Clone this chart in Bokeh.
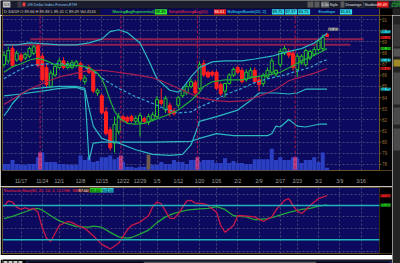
from bokeh.plotting import figure
from bokeh.models import Range1d, FixedTicker, Label, Span, BoxAnnotation
from bokeh.layouts import column, row
from bokeh.embed import file_html
from bokeh.resources import INLINE
from bokeh.core.properties import value

# ---------------- data ----------------
opens = [86.95, 87.29, 88.39, 87.37, 87.80, 87.54, 87.71, 87.97, 88.64, 87.71,
         86.70, 85.00, 86.02, 86.70, 87.29, 86.70, 86.70, 86.87, 87.04, 85.43,
         86.70, 86.36, 84.41, 84.16, 82.72, 81.11, 79.92, 80.94, 82.29, 82.21,
         82.29, 81.87, 81.78, 82.12, 81.78, 82.04, 82.29, 83.73, 82.89, 83.31,
         82.80, 83.31, 84.16, 84.41, 85.00, 85.34, 84.83, 87.04, 86.27, 86.27,
         86.27, 85.17, 84.58, 85.26, 86.02, 86.70, 86.44, 85.60, 85.85, 86.44,
         85.60, 85.26, 85.85, 86.27, 86.10, 86.95, 87.97, 88.14, 87.97, 86.53,
         87.12, 86.95, 87.54, 87.88, 88.31, 88.39, 89.66]
highs = [88.14, 88.56, 88.64, 88.22, 87.97, 88.05, 88.56, 88.73, 88.81, 87.97,
         87.04, 86.44, 87.04, 87.54, 87.63, 87.29, 87.37, 87.37, 87.20, 86.02,
         86.95, 86.53, 84.83, 84.33, 83.14, 81.36, 82.29, 82.63, 82.46, 82.38,
         82.46, 82.38, 82.63, 82.29, 82.55, 82.72, 84.16, 84.83, 84.16, 83.56,
         83.05, 84.16, 85.00, 85.26, 85.68, 85.60, 87.20, 87.37, 86.44, 86.44,
         86.44, 85.34, 85.34, 86.19, 86.70, 86.87, 86.70, 86.53, 86.70, 86.70,
         85.85, 86.19, 86.70, 87.54, 86.53, 88.39, 88.64, 88.39, 88.22, 87.97,
         87.88, 88.39, 88.31, 88.56, 89.24, 89.66, 89.83]
lows = [86.70, 87.04, 86.70, 87.20, 87.20, 87.37, 87.54, 87.80, 86.70, 85.43,
        84.83, 84.83, 85.85, 86.53, 86.53, 86.53, 86.53, 86.70, 85.51, 85.17,
        86.10, 84.41, 84.16, 82.46, 80.60, 79.24, 79.07, 80.68, 81.78, 81.70,
        81.78, 81.61, 80.51, 81.70, 81.53, 81.87, 82.12, 83.31, 82.63, 82.29,
        82.38, 83.05, 83.99, 84.24, 84.83, 84.24, 84.66, 85.85, 85.76, 85.85,
        84.66, 84.16, 83.99, 85.17, 85.85, 86.10, 85.26, 85.43, 85.68, 85.26,
        84.58, 85.00, 85.68, 86.10, 85.85, 86.70, 87.80, 87.54, 86.44, 85.85,
        86.95, 86.78, 87.37, 87.71, 88.14, 88.22, 89.41]
closes = [87.80, 88.22, 86.87, 87.97, 87.37, 87.88, 88.39, 88.56, 86.87, 85.60,
          85.17, 86.19, 86.78, 87.29, 86.70, 87.04, 87.12, 87.20, 85.68, 85.76,
          86.27, 84.58, 84.66, 82.63, 80.77, 79.50, 81.61, 82.29, 81.95, 81.87,
          81.95, 82.12, 82.38, 81.87, 82.29, 82.46, 83.82, 83.48, 83.90, 82.63,
          82.55, 83.99, 84.75, 85.00, 85.43, 84.41, 86.95, 86.02, 85.85, 86.02,
          84.83, 84.33, 85.26, 86.02, 86.53, 86.27, 85.43, 86.27, 86.44, 85.43,
          85.17, 86.02, 86.44, 87.29, 86.44, 88.14, 88.39, 87.80, 86.70, 87.71,
          87.71, 88.22, 88.14, 88.31, 89.07, 89.41, 89.49]
volume_k = [10.5, 10.5, 16.5, 10.5, 9, 9, 10.5, 10.5, 21, 28.5,
            13.5, 13.5, 13.5, 10.5, 10.5, 9, 9, 9, 24, 16.5,
            21, 13.5, 15, 21, 21, 24, 18, 21, 13.5, 6,
            6, 4.5, 6, 6, 10.5, 9, 9, 13.5, 10.5, 10.5,
            16.5, 13.5, 13.5, 10.5, 16.5, 16.5, 13.5, 16.5, 16.5, 16.5,
            12, 12, 19.5, 12, 15, 12, 12, 10.5, 10.5, 18,
            18, 18, 18, 34.5, 16.5, 21, 16.5, 16.5, 21, 19.5,
            12, 16.5, 16.5, 21, 13.5, 28.5, 4.5]

date_ticks = [4, 9, 13, 18, 23, 28, 32, 36, 41, 46, 50, 55, 60, 65, 69, 74, 79, 84]
date_labels = ["11/17", "11/24", "12/1", "12/8", "12/15", "12/22", "12/29", "1/5", "1/12",
               "1/20", "1/26", "2/2", "2/9", "2/17", "2/23", "3/2", "3/9", "3/16"]
price_ticks = list(range(78, 92))

upper_idx = [0, 3, 6, 10, 13, 17, 20, 23, 25, 27, 29, 32, 34, 36, 39, 41, 42, 44, 46, 49, 52, 56, 59, 63, 66, 70, 73, 76]
upper_val = [88.73, 88.73, 88.90, 88.81, 88.73, 88.73, 88.90, 89.24, 89.92, 90.08, 89.83, 88.90, 87.37, 85.68,
             84.66, 84.49, 84.83, 85.85, 86.69, 87.20, 87.29, 87.29, 87.46, 87.71, 88.05, 88.39, 88.90, 89.75]
lowbb_idx = [0, 1, 2, 4, 6, 10, 13, 17, 19, 20, 21, 23, 25, 27, 31, 35, 39, 42, 44, 45, 46, 50, 55, 58, 60, 64, 67, 69, 71, 76]
lowbb_val = [82.37, 82.88, 83.47, 84.32, 84.75, 84.92, 85.00, 85.00, 84.83, 83.05, 81.44, 80.34, 80.08, 79.92, 79.32,
             78.90, 78.81, 78.90, 79.75, 80.76, 81.86, 82.29, 82.88, 83.73, 84.41, 84.41, 84.32, 84.41, 84.75, 84.75]
band2_idx = [0, 4, 9, 13, 17, 19, 20, 21, 23, 35, 44, 46, 50, 54, 62, 63, 64, 65, 67, 69, 71, 74, 76]
band2_val = [84.15, 84.32, 84.58, 84.83, 84.92, 84.66, 78.39, 79.92, 80.00, 80.00, 80.08, 80.34, 80.76, 80.59,
             80.59, 80.76, 81.44, 81.36, 82.03, 81.44, 81.36, 81.61, 81.61]
dashed_idx = [0, 3, 6, 10, 13, 18, 21, 24, 27, 31, 35, 38, 41, 44, 46, 49, 52, 56, 59, 62, 66, 68, 72, 75, 76]
dashed_val = [85.68, 86.36, 86.86, 87.03, 87.03, 86.86, 86.36, 85.51, 84.83, 84.07, 83.47, 82.97, 82.63, 82.71,
              83.14, 83.64, 84.24, 84.83, 85.34, 85.68, 86.02, 86.27, 86.69, 87.29, 87.37]
sma_idx = [0, 3, 6, 10, 13, 17, 20, 23, 25, 30, 35, 37, 39, 42, 44, 46, 50, 53, 57, 59, 62, 64, 67, 70, 73, 76]
sma_val = [83.39, 84.07, 84.75, 85.42, 85.85, 86.19, 86.44, 86.44, 86.36, 86.10, 85.76, 85.51, 85.17, 84.66,
           84.32, 83.98, 83.73, 83.64, 83.73, 83.98, 84.41, 84.75, 85.51, 85.85, 86.19, 86.61]
ema_idx = [0, 2, 4, 6, 8, 10, 12, 15, 18, 20, 22, 23, 24, 25, 26, 27, 29, 31, 33, 35, 38, 41, 44, 46, 47, 49,
           52, 56, 59, 62, 65, 68, 70, 73, 76]
ema_val = [86.27, 86.78, 87.03, 87.37, 87.54, 87.29, 86.95, 86.86, 86.86, 86.69, 86.19, 85.68, 84.83, 83.73,
           82.80, 82.20, 81.69, 81.61, 81.69, 81.95, 82.37, 82.88, 83.73, 84.49, 85.00, 85.42, 85.59, 85.59,
           85.85, 86.02, 86.27, 86.86, 87.29, 87.80, 88.39]

level_price = [89.24, 88.73]
level_x0 = [6.2, -0.5]
level_x1 = [84.6, 81.5]
red_line_idx = [8.5, 27.5, 45.5, 68.5]
event_idx = [8.5, 27.5, 34, 45.5, 68.5]
event_top = [28.5, 24, 25.5, 21, 21]
event_colors = ["#b8448e", "#b8448e", "#6e5a4a", "#b8448e", "#b8448e"]

k_idx = [0, 1, 2, 3, 4, 5, 6, 7, 8, 9, 10, 11, 12, 13, 15, 16, 17, 19, 21, 23, 25, 27, 29, 30, 32, 34, 35, 36,
         37, 38, 39, 40, 41, 43, 44, 45, 47, 48, 50, 51, 52, 54, 55, 56, 59, 61, 63, 64, 66, 67, 68, 69, 70,
         71, 72, 73, 74, 76]
k_val = [78, 88, 86, 77, 73, 76, 73, 75, 68, 41, 23, 17, 31, 45, 52, 50, 46, 40, 27, 12, 4, 14, 37, 45, 51, 62,
         78, 86, 83, 70, 58, 57, 65, 88, 89, 84, 83, 80, 68, 45, 33, 45, 62, 62, 60, 52, 60, 72, 89, 92, 80, 70,
         66, 72, 80, 86, 92, 97]
d_idx = [0, 2, 5, 7, 8, 9, 11, 13, 15, 17, 20, 21, 23, 25, 27, 29, 30, 32, 34, 36, 38, 40, 43, 46, 48, 50, 52,
         54, 57, 59, 62, 64, 67, 70, 72, 74, 76]
d_val = [57, 61, 69, 74, 75, 72, 62, 53, 48, 43, 42, 44, 42, 33, 25, 23, 24, 30, 37, 50, 60, 66, 72, 74, 75, 78,
         73, 62, 60, 55, 57, 61, 68, 73, 75, 79, 81]
stoch_levels = [80, 20]
stoch_ticks = [0, 20, 40, 60, 80, 100]

# ---------------- styling ----------------
BG = "#0c0a5e"
GRID = "#45457a"
FRAME = "#6b5328"
CYAN = "#2bb8c0"
GREEN_C = "#27c427"
RED_C = "#ff1f1f"
FONT = "Liberation Sans"
AXIS_X = 88.35          # index where the plotting area ends and the price scale begins
BAR_W = 4.25            # pixels per candle
BAR_X0 = 3.5            # pixel of candle 0

n = len(closes)
idx = list(range(n))
xr = Range1d(-0.353, 91.41)


def px(x):
    return (x - BAR_X0) / BAR_W


def panel(f, yticks):
    f.xgrid.ticker = FixedTicker(ticks=date_ticks)
    f.ygrid.ticker = FixedTicker(ticks=yticks)
    f.grid.grid_line_color = GRID
    f.grid.grid_line_dash = "2 2"
    f.grid.grid_line_width = 1
    f.add_layout(BoxAnnotation(left=AXIS_X, fill_color="black", fill_alpha=1.0, line_color=None, level="underlay"))
    f.add_layout(Span(location=AXIS_X, dimension="height", line_color=FRAME, line_width=1))
    f.segment(x0=[AXIS_X] * len(yticks), x1=[AXIS_X + 0.45] * len(yticks), y0=yticks, y1=yticks,
              line_color=FRAME, line_width=1)
    f.text(x=[AXIS_X + 0.6] * len(yticks), y=yticks, text=[str(t) for t in yticks], text_font=value(FONT),
           text_font_size="4.5px", text_color="#9c6f35", text_baseline="middle", text_align="left")


def tag(f, x, y, text, bg, color="black", size="4px"):
    f.add_layout(Label(x=x, y=y, text=text, text_font_size=size, text_color=color, text_font=FONT,
                       text_align="left", text_baseline="middle", background_fill_color=bg,
                       background_fill_alpha=1.0))


def text_row(f, xs, y, texts, colors, bgs, size_px, unit, y0, y1):
    """boxes + texts for a strip of small toolbar/legend items"""
    cw = size_px * 0.55
    lefts = [x - 0.6 / unit for x in xs]
    rights = [x + (len(t) * cw + 0.6) / unit for x, t in zip(xs, texts)]
    f.quad(left=lefts, right=rights, bottom=y0, top=y1, fill_color=bgs, line_color=None)
    f.text(x=xs, y=[y] * len(xs), text=texts, text_color=colors, text_font=value(FONT),
           text_font_size="%gpx" % size_px, text_baseline="middle", text_align="left")


# ---------------- top bar + study header row (pixel coordinates) ----------------
a = figure(width=400, height=15, x_range=Range1d(0, 400), y_range=Range1d(15, 0), output_backend="svg",
           toolbar_location=None, min_border=0, x_axis_location=None, y_axis_location=None,
           background_fill_color="black", border_fill_color="black", outline_line_color=None)
a.grid.visible = False
a.quad(left=[0, 2, 392], right=[400, 379, 400], top=[0, 8, 8], bottom=[8, 15, 15],
       fill_color=["#1a1d2b", BG, "#242424"], line_color=None)
a.segment(x0=[2, 379], x1=[2, 379], y0=[8, 8], y1=[15, 15], line_color=FRAME, line_width=1)
red_px = [BAR_X0 + BAR_W * e for e in red_line_idx]
a.segment(x0=red_px, x1=red_px, y0=[8] * len(red_px), y1=[15] * len(red_px), line_color="#b3164a",
          line_dash="3 2", line_width=1)
a.quad(left=[17, 22, 307, 314, 339, 358], right=[21, 25, 313, 319, 344, 363],
       top=[1, 2, 1, 1, 1, 1], bottom=[7, 6, 7, 7, 7, 7],
       fill_color=["#3a3a48", "#e04040", "#5a5a5a", "#5a5a5a", "#5a5a5a", "#5a5a5a"], line_color=None)
text_row(a, [3, 27, 321, 329, 345, 364, 377], 4.2,
         ["/DX", "US Dollar Index Futures,ETH", "1 0s", "Style", "Drawings", "Studies", "89.49"],
         ["#202020", "#8fc3ff", "#e0e0e0", "#e0e0e0", "#e0e0e0", "#e0e0e0", "#ffffff"],
         ["#c8c8c8", "#1a1d2b", "#6a6a6a", "#1a1d2b", "#1a1d2b", "#1a1d2b", "#e01010"], 3.8, 1.0, 1, 7)
a.text(x=[391, 391], y=[2.3, 5.9], text=["+0.02", "0.02%"], text_color="#30ff30", text_font=value(FONT),
       text_font_size="3.5px", text_baseline="middle")

# quote summary (one string) + study value items
a.quad(left=[2.5], right=[100], bottom=[8.8], top=[14.0], fill_color="#121224", line_color=None)
a.text(x=[3.5], y=[11.4], text=["D 3/4/09  O 89.66  H 89.83  L 89.41  C 89.49  Vol 4516"],
       text_color="#cfcfcf", text_font=value(FONT), text_font_size="4px", text_baseline="middle",
       text_align="left")
header = [(112, "MovingAvgExponential(20)", "#3cff3c", BG), (155, "%.2f" % ema_val[-1], "black", "#2ee82e"),
          (168, "SimpleMovingAvg(50)", "#ff3030", BG), (214, "%.2f" % sma_val[-1], "white", "#e01818"),
          (227, "BollingerBands(20, 2)", "#30e8f0", BG), (272, "%.2f" % upper_val[-1], "black", "#30d8e8"),
          (285, "%.2f" % dashed_val[-1], "black", "#30d8e8"), (298, "%.2f" % lowbb_val[-1], "black", "#30d8e8"),
          (318, "Envelope", "#30e8f0", BG), (340, "%.2f" % band2_val[-1], "black", "#30d8e8")]
text_row(a, [x for x, _, _, _ in header], 11.4, [t for _, t, _, _ in header],
         [c for _, _, c, _ in header], [b for _, _, _, b in header], 4.0, 1.0, 8.8, 14.0)

# ---------------- main price panel ----------------
p = figure(width=392, height=171, x_range=xr, y_range=Range1d(77.46, 91.36), output_backend="svg",
           toolbar_location=None, min_border_left=2, min_border_right=0, min_border_top=0,
           min_border_bottom=7, background_fill_color=BG, border_fill_color="black",
           outline_line_color=FRAME, y_axis_location=None)
panel(p, price_ticks)
p.xaxis.ticker = FixedTicker(ticks=date_ticks)
p.xaxis.major_label_overrides = {t: l for t, l in zip(date_ticks, date_labels)}
p.xaxis.axis_line_color = None
p.xaxis.major_tick_line_color = None
p.xaxis.minor_tick_line_color = None
p.xaxis.major_label_text_font_size = "5px"
p.xaxis.major_label_text_color = "#a0a0a0"
p.xaxis.major_label_text_font = FONT
p.xaxis.major_label_standoff = 1

p.extra_y_ranges = {"vol": Range1d(0, 246)}
p.vbar(x=idx, top=volume_k, bottom=0, width=0.95, y_range_name="vol", fill_color="#2a3fc2", line_color=None)
p.vbar(x=event_idx, top=event_top, bottom=1.5, width=0.9, y_range_name="vol", fill_color=event_colors,
       line_color=None)

for e in red_line_idx:
    p.add_layout(Span(location=e, dimension="height", line_color="#b3164a", line_dash="3 2", line_width=1))

p.segment(x0=level_x0, x1=level_x1, y0=level_price, y1=level_price, line_color="#8c1f52", line_width=2)

up = [c >= o for o, c in zip(opens, closes)]
ccol = [GREEN_C if u else RED_C for u in up]
p.segment(x0=idx, x1=idx, y0=lows, y1=highs, line_color=ccol, line_width=1)
btop = [max(o, c) + (0.03 if abs(o - c) < 0.03 else 0) for o, c in zip(opens, closes)]
bbot = [min(o, c) for o, c in zip(opens, closes)]
p.vbar(x=idx, top=btop, bottom=bbot, width=0.7, fill_color=[BG if u else RED_C for u in up],
       line_color=ccol, line_width=1)

p.line(upper_idx, upper_val, line_color=CYAN, line_width=1.2)
p.line(lowbb_idx, lowbb_val, line_color=CYAN, line_width=1.2)
p.line(band2_idx, band2_val, line_color=CYAN, line_width=1.2)
p.line(dashed_idx, dashed_val, line_color="#36a8d0", line_width=1.2, line_dash="3 2")
p.line(sma_idx, sma_val, line_color="#a81e52", line_width=1.2)
p.line(ema_idx, ema_val, line_color="#22b03a", line_width=1.2)

# value tags on the price scale
tx = AXIS_X + 0.25
tag(p, tx, upper_val[-1] + 0.15, "%.2f" % upper_val[-1], "#28e4f4")
tag(p, tx, closes[-1] - 0.1, "%.2f" % closes[-1], "#ff2020")
tag(p, tx, ema_val[-1], "%.2f" % ema_val[-1], "#22e622")
tag(p, tx, dashed_val[-1], "%.2f" % dashed_val[-1], "#28e4f4")
tag(p, tx, sma_val[-1], "%.2f" % sma_val[-1], "#ff2020")
tag(p, tx, lowbb_val[-1], "%.2f" % lowbb_val[-1], "#28e4f4")
tag(p, n - 0.7, highs[-1] + 0.3, "%.2f" % highs[-1], "#c8c8c8")

# ---------------- stochastic panel ----------------
q = figure(width=392, height=69, x_range=xr, y_range=Range1d(-4.0, 111.4), output_backend="svg",
           toolbar_location=None, min_border_left=2, min_border_right=0, min_border_top=1,
           min_border_bottom=2, background_fill_color=BG, border_fill_color="black",
           outline_line_color=FRAME, y_axis_location=None, x_axis_location=None)
panel(q, stoch_ticks)
for lv in stoch_levels:
    q.add_layout(Span(location=lv, dimension="width", line_color="#1fb4bc", line_width=1.6))
q.add_layout(BoxAnnotation(left=AXIS_X, fill_color="black", fill_alpha=1.0, line_color=None))
q.line(d_idx, d_val, line_color="#22a83c", line_width=1.3)
q.line(k_idx, k_val, line_color="#c8184c", line_width=1.3)
text_row(q, [px(3), px(78), px(90), px(102), px(108)], 106.5,
         ["StochasticSlow(80, 20, 14, 3, CLOSE, SMA, no)", "%.2f" % k_val[-1], "%.2f" % d_val[-1], "80", "20"],
         ["#ff2a2a", "#e0e0e0", "black", "black", "black"], [BG, "#202028", "#22d022", "#28c8d8", "#28c8d8"],
         4.0, 4.25, 102.5, 110.5)
tag(q, tx, k_val[-1], "%.2f" % k_val[-1], "#ff2020")
tag(q, tx, d_val[-1], "%.2f" % d_val[-1], "#22e622")

# ---------------- scrollbar ----------------
d = figure(width=392, height=8, x_range=Range1d(0, 392), y_range=Range1d(8, 0), output_backend="svg",
           toolbar_location=None, min_border=0, x_axis_location=None, y_axis_location=None,
           background_fill_color="black", border_fill_color="black", outline_line_color=None)
d.grid.visible = False
d.quad(left=[1, 6, 11, 16, 24, 142], right=[5, 10, 15, 20, 391, 315], top=[1.5, 1.5, 1.5, 1.5, 1.5, 2.2],
       bottom=[6.5, 6.5, 6.5, 6.5, 7, 6.3],
       fill_color=["#c8c8c8", "#c8c8c8", "#c8c8c8", "#c8c8c8", "#05051a", "#5c5c5c"],
       line_color=[None, None, None, None, "#2a2a50", None])
d.quad(left=[24.5, 388.5], right=[26, 390], top=[3, 3], bottom=[5.5, 5.5], fill_color="#2040ff", line_color=None)

# ---------------- right strip ----------------
s = figure(width=8, height=248, x_range=Range1d(0, 8), y_range=Range1d(263, 15), output_backend="svg",
           toolbar_location=None, min_border=0, x_axis_location=None, y_axis_location=None,
           background_fill_color="#242424", border_fill_color="#242424", outline_line_color=None)
s.grid.visible = False
s.quad(left=[1, 1, 1, 1, 1, 1], right=[8, 8, 8, 8, 8, 8], top=[24, 48, 59, 72, 107, 128],
       bottom=[46, 56, 66, 104, 124, 150],
       fill_color=["#3a3a3a", "#555555", "#a08a28", "#4a4a4a", "#4a4a4a", "#4a4a4a"],
       line_color=None)

layout = column(a, row(column(p, q, d), s))
open("out.html", "w").write(file_html(layout, INLINE))
